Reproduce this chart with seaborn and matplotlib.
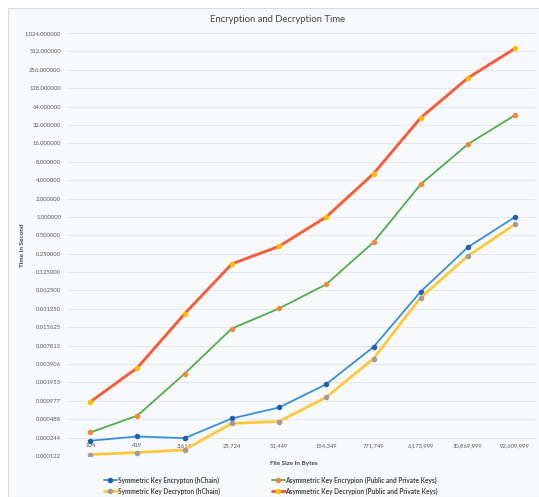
import numpy as np
import pandas as pd
import matplotlib
matplotlib.use("Agg")
import matplotlib.pyplot as plt
import seaborn as sns
from decimal import Decimal, ROUND_HALF_UP
from matplotlib.patches import Rectangle

# File sizes (bytes) used as categories on the x axis
file_sizes = ["104", "419", "3,614", "25,724", "51,449", "154,349",
              "771,749", "6,173,999", "30,869,999", "92,609,999"]

# Timing results in seconds
sym_enc = [0.000217, 0.000255, 0.000239, 0.000502, 0.000760, 0.00183,
           0.00745, 0.0600, 0.320, 1.00]
sym_dec = [0.000129, 0.000139, 0.000154, 0.000418, 0.000448, 0.00112,
           0.00480, 0.0478, 0.230, 0.760]
asym_enc = [0.000296, 0.000560, 0.00272, 0.0149, 0.0317, 0.0790,
            0.385, 3.43, 15.5, 46.6]
asym_dec = [0.000935, 0.00340, 0.0260, 0.170, 0.330, 1.00,
            5.10, 42.0, 188.0, 575.0]

series_names = ["Symmetric Key Encrypton (hChain)",
                "Symmetric Key Decrypton (hChain)",
                "Asymmetric Key Encrypion (Public and Private Keys)",
                "Asymmetric Key Decrypion (Public and Private Keys)"]

y_ticks = [2.0 ** k for k in range(-13, 11)]


def fmt_tick(v):
    # six decimals, half-up rounding, thousands separator
    d = Decimal(v).quantize(Decimal("0.000001"), rounding=ROUND_HALF_UP)
    return f"{d:,.6f}"


frames = []
for name, vals in zip(series_names, [sym_enc, sym_dec, asym_enc, asym_dec]):
    frames.append(pd.DataFrame({"pos": np.arange(len(file_sizes)),
                                "size": file_sizes,
                                "time": vals,
                                "series": name}))
df = pd.concat(frames, ignore_index=True)

styles = {
    series_names[0]: dict(color="#3a8fdb", mfc="#1f5fae", lw=1.3, ms=3.2),
    series_names[1]: dict(color="#ffc83c", mfc="#9c9c9c", lw=2.0, ms=3.2),
    series_names[2]: dict(color="#4fae4a", mfc="#f08a3a", lw=1.3, ms=3.2),
    series_names[3]: dict(color="#f45e3a", mfc="#ffc000", lw=2.1, ms=3.2),
}

sns.set_theme(style="white")
plt.rcParams["font.family"] = ["Lato", "DejaVu Sans"]

bg = "#f8f9fb"
fig = plt.figure(figsize=(5.39, 4.97), dpi=100, facecolor="white")
fig.patches.append(Rectangle((8 / 539, 0), 1 - 8 / 539, 1 - 8 / 497,
                             transform=fig.transFigure, facecolor=bg,
                             edgecolor="#d9dde2", lw=0.8, zorder=-10))

ax = fig.add_axes([68 / 539, 1 - 456 / 497, (535 - 68) / 539, (456 - 33) / 497])
ax.set_facecolor(bg)

for name in series_names:
    st = styles[name]
    sns.lineplot(data=df[df["series"] == name], x="pos", y="time", ax=ax,
                 color=st["color"], linewidth=st["lw"], marker="o",
                 markersize=st["ms"], markerfacecolor=st["mfc"],
                 markeredgecolor=st["mfc"], label=name, legend=False,
                 zorder=3)

ax.set_yscale("log", base=2)
ax.set_ylim(2.0 ** -13, 2.0 ** 10)
ax.set_xlim(-0.47, 9.42)
ax.set_yticks(y_ticks)
ax.set_yticklabels([fmt_tick(v) for v in y_ticks])
ax.minorticks_off()
ax.yaxis.grid(True, color="#e3e6ea", lw=0.7)
ax.xaxis.grid(False)

# horizontal axis crosses at 0.000244
ax.spines["bottom"].set_position(("data", 2.0 ** -12))
ax.spines["bottom"].set_visible(False)
for s in ["top", "right", "left"]:
    ax.spines[s].set_visible(False)
ax.set_xticks(range(len(file_sizes)))
ax.set_xticklabels(file_sizes)
ax.tick_params(axis="both", length=0, labelsize=4.2, labelcolor="#595959")
ax.tick_params(axis="x", pad=4)
ax.tick_params(axis="y", pad=5)
ax.set_xlabel("")
ax.set_ylabel("")

fig.text(277.5 / 539, 1 - 19 / 497, "Encryption and Decryption Time",
         ha="center", va="center", fontsize=6.8, color="#444444")
fig.text(294 / 539, 1 - 464 / 497, "File Size In Bytes", ha="center",
         va="center", fontsize=4.6, fontweight="bold", color="#444444")
fig.text(22 / 539, 1 - 245 / 497, "Time In Second", ha="center",
         va="center", rotation=90, fontsize=4.6, fontweight="bold",
         color="#444444")

handles, labels = ax.get_legend_handles_labels()
leg = fig.legend(handles, labels, ncol=2, loc="center",
                 bbox_to_anchor=(271 / 539, 1 - 485.5 / 497), frameon=False,
                 fontsize=4.7, handlelength=2.0, columnspacing=8.0,
                 labelspacing=0.6, handletextpad=0.1)
for t in leg.get_texts():
    t.set_color("#444444")
    t.set_fontweight("bold")

fig.savefig("out.png", dpi=100, facecolor="white")
